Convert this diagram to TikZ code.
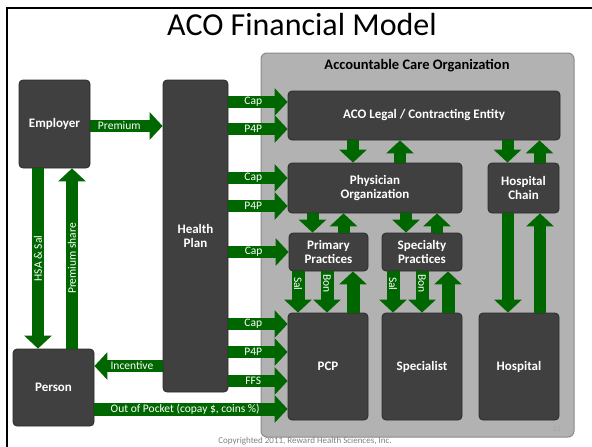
\documentclass[tikz,border=0pt]{standalone}
\usepackage{fontspec}
\setmainfont{Carlito}
\usetikzlibrary{arrows.meta}

\definecolor{flowgreen}{HTML}{006600}
\definecolor{boxgray}{HTML}{404040}
\definecolor{boxedge}{HTML}{2A2A2A}
\definecolor{acogray}{HTML}{B2B2B2}
\definecolor{acoedge}{HTML}{8A8A8A}

\begin{document}
\begin{tikzpicture}[x=1pt, y=-1pt,
  box/.style={fill=boxgray, draw=boxedge, line width=0.8pt, rounded corners=4pt,
    text=white, font=\bfseries\fontsize{13}{14.5}\selectfont, align=center, inner sep=0pt},
  flow/.style={draw=flowgreen, line width=12pt, -{Triangle[width=27pt, length=13pt]}},
  flowlbl/.style={text=white, font=\fontsize{11.5}{13}\selectfont, inner sep=0pt}]

  \useasboundingbox (0,0) rectangle (592,447);

  % Slide frame and title
  \draw[line width=2pt] (7,447) -- (7,8) -- (592,8);
  \node[font=\fontsize{32}{36}\selectfont] (title) at (302,25) {ACO Financial Model};

  % Accountable Care Organization (grey container)
  \node[fill=acogray, draw=acoedge, line width=1pt, rounded corners=6pt,
    minimum width=313pt, minimum height=384pt, inner sep=0pt] (aco) at (417.5,245) {};
  \node[font=\bfseries\fontsize{14.5}{16}\selectfont] (acolbl) at (417,66) {Accountable Care Organization};

  % Outside parties
  \node[box, minimum width=71pt, minimum height=88pt] (emp) at (54.5,124) {Employer};
  \node[box, minimum width=65pt, minimum height=312pt] (hp) at (195.5,236) {Health\\Plan};
  \node[box, minimum width=81pt, minimum height=77pt] (per) at (53.5,387.5) {Person};

  % Inside the ACO
  \node[box, minimum width=272pt, minimum height=49pt] (legal) at (424,115.5) {ACO Legal / Contracting Entity};
  \node[box, minimum width=174pt, minimum height=50pt] (phys) at (375,188) {Physician\\Organization};
  \node[box, minimum width=71pt, minimum height=50pt] (hchain) at (523.5,188) {Hospital\\Chain};
  \node[box, minimum width=79pt, minimum height=38pt] (prim) at (328.5,252) {Primary\\Practices};
  \node[box, minimum width=80pt, minimum height=38pt] (spec) at (422,252) {Specialty\\Practices};
  \node[box, minimum width=80pt, minimum height=107pt] (pcp) at (328,366.5) {PCP};
  \node[box, minimum width=80pt, minimum height=107pt] (splist) at (422,366.5) {Specialist};
  \node[box, minimum width=80pt, minimum height=107pt] (hosp) at (519,366.5) {Hospital};

  % Employer <-> Person
  \coordinate (hsa) at ([xshift=-15.5pt]per.north);
  \coordinate (pshare) at ([xshift=18.5pt]per.north);
  \draw[flow] (emp.south -| hsa) -- (hsa) node[flowlbl, midway, rotate=90] {HSA \& Sal};
  \draw[flow] (pshare) -- (emp.south -| pshare) node[flowlbl, midway, rotate=90] {Premium share};

  % Premium to the health plan
  \draw[flow] ([yshift=-2pt]emp.east) -- ([yshift=-2pt]emp.east -| hp.west)
    node[flowlbl, pos=0.4] {Premium};

  % Health plan payments into the ACO
  \coordinate (legcap) at ([yshift=13.5pt]legal.west);
  \coordinate (legp4p) at ([yshift=-13.5pt]legal.west);
  \draw[flow] (hp.east |- legcap) -- (legcap) node[flowlbl, pos=0.42] {Cap};
  \draw[flow] (hp.east |- legp4p) -- (legp4p) node[flowlbl, pos=0.42] {P4P};
  \coordinate (phycap) at ([yshift=10pt]phys.west);
  \coordinate (phyp4p) at ([yshift=-18pt]phys.west);
  \draw[flow] (hp.east |- phycap) -- (phycap) node[flowlbl, pos=0.42] {Cap};
  \draw[flow] (hp.east |- phyp4p) -- (phyp4p) node[flowlbl, pos=0.42] {P4P};
  \draw[flow] (hp.east |- prim.west) -- (prim.west) node[flowlbl, pos=0.42] {Cap};
  \coordinate (pcpcap) at ([yshift=42.5pt]pcp.west);
  \coordinate (pcpp4p) at ([yshift=14.5pt]pcp.west);
  \coordinate (pcpffs) at ([yshift=-14.5pt]pcp.west);
  \draw[flow] (hp.east |- pcpcap) -- (pcpcap) node[flowlbl, pos=0.42] {Cap};
  \draw[flow] (hp.east |- pcpp4p) -- (pcpp4p) node[flowlbl, pos=0.42] {P4P};
  \draw[flow] (hp.east |- pcpffs) -- (pcpffs) node[flowlbl, pos=0.42] {FFS};

  % Person flows
  \coordinate (incent) at ([yshift=21.5pt]per.east);
  \draw[flow] (hp.west |- incent) -- (incent) node[flowlbl, pos=0.45] {Incentive};
  \coordinate (oop) at ([yshift=-21.5pt]per.east);
  \draw[flow, line width=13pt] (oop) -- (oop -| pcp.west)
    node[flowlbl, pos=0.47] {Out of Pocket (copay \$, coins \%)};

  % ACO legal <-> physician organization and hospital chain
  \coordinate (lpd) at ([xshift=-22pt]phys.north);
  \coordinate (lpu) at ([xshift=25pt]phys.north);
  \draw[flow] (legal.south -| lpd) -- (lpd);
  \draw[flow] (lpu) -- (legal.south -| lpu);
  \coordinate (lhd) at ([xshift=-16pt]hchain.north);
  \coordinate (lhu) at ([xshift=16pt]hchain.north);
  \draw[flow] (legal.south -| lhd) -- (lhd);
  \draw[flow] (lhu) -- (legal.south -| lhu);

  % Physician organization <-> practices
  \coordinate (ppd) at ([xshift=-16pt]prim.north);
  \coordinate (ppu) at ([xshift=15pt]prim.north);
  \draw[flow] (phys.south -| ppd) -- (ppd);
  \draw[flow] (ppu) -- (phys.south -| ppu);
  \coordinate (psd) at ([xshift=-16pt]spec.north);
  \coordinate (psu) at ([xshift=15pt]spec.north);
  \draw[flow] (phys.south -| psd) -- (psd);
  \draw[flow] (psu) -- (phys.south -| psu);

  % Practices <-> physicians
  \coordinate (prsal) at ([xshift=-30pt]pcp.north);
  \coordinate (prbon) at ([xshift=-1pt]pcp.north);
  \coordinate (prup) at ([xshift=25pt]pcp.north);
  \draw[flow, line width=13pt] (prim.south -| prsal) -- (prsal)
    node[flowlbl, pos=0.3, rotate=-90] {Sal};
  \draw[flow, line width=13pt] (prim.south -| prbon) -- (prbon)
    node[flowlbl, pos=0.3, rotate=-90] {Bon};
  \draw[flow, line width=13pt] (prup) -- (prim.south -| prup);
  \coordinate (spsal) at ([xshift=-29pt]splist.north);
  \coordinate (spbon) at ([xshift=0pt]splist.north);
  \coordinate (spup) at ([xshift=26pt]splist.north);
  \draw[flow, line width=13pt] (spec.south -| spsal) -- (spsal)
    node[flowlbl, pos=0.3, rotate=-90] {Sal};
  \draw[flow, line width=13pt] (spec.south -| spbon) -- (spbon)
    node[flowlbl, pos=0.3, rotate=-90] {Bon};
  \draw[flow, line width=13pt] (spup) -- (spec.south -| spup);

  % Hospital chain <-> hospital
  \coordinate (hhd) at ([xshift=-11pt]hosp.north);
  \coordinate (hhu) at ([xshift=21pt]hosp.north);
  \draw[flow] (hchain.south -| hhd) -- (hhd);
  \draw[flow] (hhu) -- (hchain.south -| hhu);

  % Page number and copyright
  \node[text=black!35, font=\fontsize{8}{9}\selectfont] (pgnum) at (557,429) {51};
  \node[text=black!50, font=\fontsize{9}{10}\selectfont] (copyr) at (305,441.5) {Copyrighted 2011, Reward Health Sciences, Inc.};
\end{tikzpicture}
\end{document}
